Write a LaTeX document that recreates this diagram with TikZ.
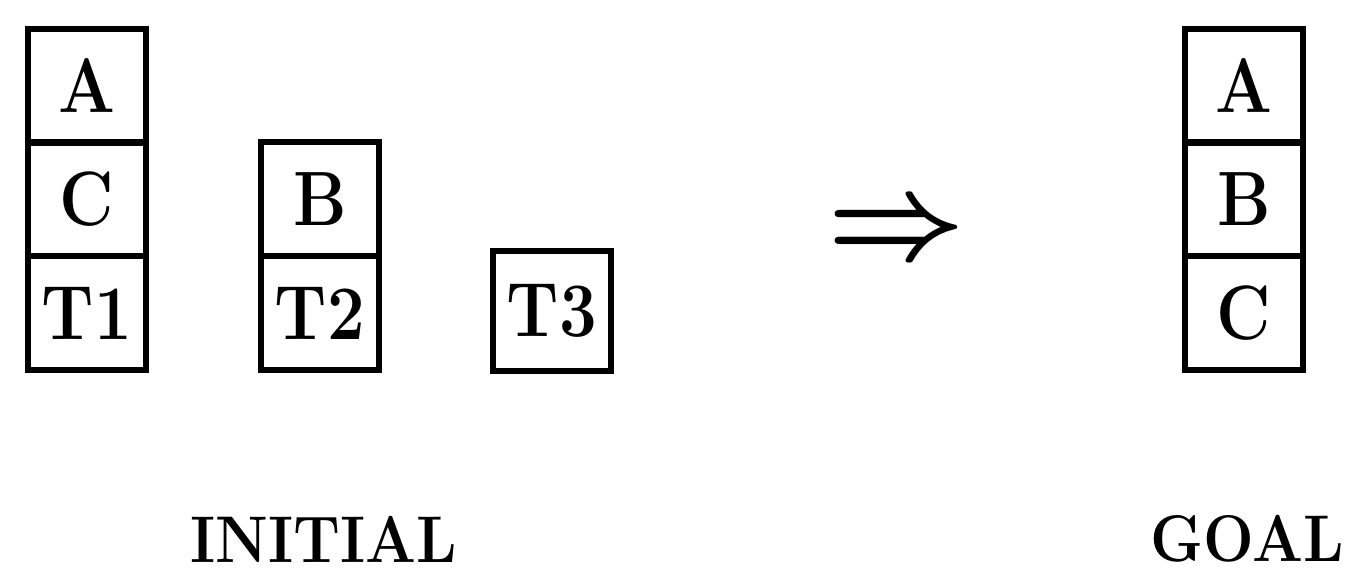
\documentclass[tikz,border=0pt]{standalone}
\usepackage{graphicx}
\tikzset{
  blockbox/.style={draw, line width=2.8pt, minimum width=59pt, minimum height=57pt,
    inner sep=0pt, outer sep=0pt, font=\fontsize{33.5}{40}\selectfont\bfseries},
  caption/.style={inner sep=0pt, font=\fontsize{30}{34}\selectfont\bfseries},
  bigarrow/.style={scale=6, inner sep=0pt, font=\boldmath}
}
\newcommand{\tallt}[1]{\scalebox{1}[1.15]{#1}}
\newcommand{\capt}[1]{\scalebox{1}[1.1]{#1}}
\begin{document}
\begin{tikzpicture}[x=0.5pt,y=-0.5pt]
\useasboundingbox (0,0) rectangle (1346,570);
% initial stacks
\node[blockbox] (a1) at (87,86) {\tallt{A}};
\node[blockbox] (c1) at (87,199) {\tallt{C}};
\node[blockbox] (t1) at (87,313) {\tallt{T1}};
\node[blockbox] (b1) at (320,199) {\tallt{B}};
\node[blockbox] (t2) at (320,313) {\tallt{T2}};
\node[blockbox, minimum height=60pt] (t3) at (552,311) {\tallt{T3}};
% arrow
\node[bigarrow] (arr) at (896,234) {$\Rightarrow$};
% goal stack
\node[blockbox] (a2) at (1244,86) {\tallt{A}};
\node[blockbox] (b2) at (1244,199) {\tallt{B}};
\node[blockbox] (c2) at (1244,313) {\tallt{C}};
% captions
\node[caption] (init) at (324,539) {\capt{INITIAL}};
\node[caption] (goal) at (1247,539) {\capt{GOAL}};
\end{tikzpicture}
\end{document}
